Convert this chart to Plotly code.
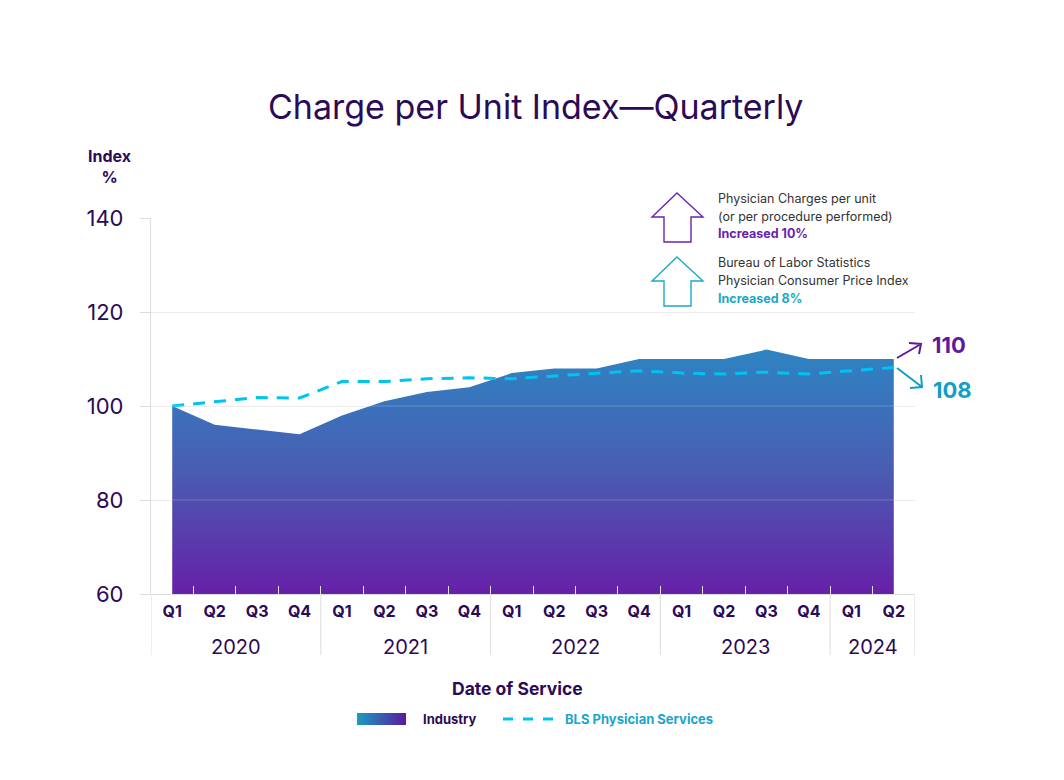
import base64
import plotly.graph_objects as go

# ---------------- data ----------------
quarters = ["Q1", "Q2", "Q3", "Q4", "Q1", "Q2", "Q3", "Q4", "Q1", "Q2", "Q3", "Q4",
            "Q1", "Q2", "Q3", "Q4", "Q1", "Q2"]
years = ["2020"] * 4 + ["2021"] * 4 + ["2022"] * 4 + ["2023"] * 4 + ["2024"] * 2
industry = [100, 96, 95, 94, 98, 101, 103, 104, 107, 108, 108, 110,
            110, 110, 112, 110, 110, 110]
bls = [100.0, 100.9, 101.8, 101.7, 105.2, 105.2, 105.8, 106.0, 105.8, 106.4, 107.0, 107.5,
       107.0, 106.8, 107.2, 106.8, 107.5, 108.2]
y_ticks = [60, 80, 100, 120, 140]
end_labels = ["110", "108"]

DARK = "#2b0a57"
PURPLE = "#5c1a9e"
PURPLE2 = "#6a22b0"
CYAN = "#00c3f0"
TEAL = "#0fa0c2"
GRID = "#ebebeb"
FONT = "Inter"

# plot-area frame in screen pixels; page body has an 8px margin
OFF = 8
L, R, T, B = 151, 915, 218, 594
W, H = 1064 - 2 * OFF, 780 - 2 * OFF


def px(x):
    return (x - L) / (R - L)


def py(y):
    return (B - y) / (B - T)


xs = list(range(len(quarters)))

fig = go.Figure()
fig.add_trace(go.Scatter(
    x=xs, y=industry, mode="lines", name="Industry",
    line=dict(width=0, color=PURPLE),
    fill="tozeroy",
    fillgradient=dict(type="vertical", start=60, stop=112,
                      colorscale=[[0, "#6620a8"], [0.5, "#4a5cb2"], [1, "#2e84c2"]]),
    showlegend=False, hoverinfo="skip"))
fig.add_trace(go.Scatter(
    x=xs, y=bls, mode="lines", name="BLS Physician Services",
    line=dict(color=CYAN, width=3, dash="12px,9px"),
    showlegend=False, hoverinfo="skip"))

shapes = []
annotations = []

# gridlines over the fill (faint)
for v in [80, 100]:
    shapes.append(dict(type="line", xref="paper", yref="y", x0=0, x1=1, y0=v, y1=v,
                       line=dict(color="rgba(255,255,255,0.22)", width=1), layer="above"))

# year dividers
bounds = [-0.5]
for i in range(1, len(years)):
    if years[i] != years[i - 1]:
        bounds.append(i - 0.5)
bounds.append(len(years) - 0.5)
for b in bounds:
    shapes.append(dict(type="line", xref="x", yref="paper", x0=b, x1=b,
                       y0=0, y1=-(655 - B) / (B - T),
                       line=dict(color="#e2e2e2", width=1.2)))

# year labels
for j in range(len(bounds) - 1):
    yr = years[int(bounds[j] + 0.5)]
    annotations.append(dict(x=(bounds[j] + bounds[j + 1]) / 2, y=py(647), xref="x", yref="paper",
                            text=yr, showarrow=False, font=dict(family=FONT, size=20, color=DARK),
                            xanchor="center", yanchor="middle"))

# title
annotations.append(dict(x=px(535), y=py(107), xref="paper", yref="paper",
                        text="Charge per Unit Index\u2014Quarterly", showarrow=False,
                        font=dict(family=FONT, size=34, color=DARK),
                        xanchor="center", yanchor="middle"))
# y-axis title
annotations.append(dict(x=px(109), y=py(166), xref="paper", yref="paper",
                        text="<b>Index</b><br><b>%</b>", showarrow=False,
                        font=dict(family=FONT, size=16, color=DARK),
                        xanchor="center", yanchor="middle"))
# x-axis title
annotations.append(dict(x=px(517), y=py(688), xref="paper", yref="paper",
                        text="<b>Date of Service</b>", showarrow=False,
                        font=dict(family=FONT, size=17.5, color=DARK),
                        xanchor="center", yanchor="middle"))


# info arrows (outlined up arrows)
def up_arrow(dy, color):
    pts = [(677, 193), (703, 217), (691, 217), (691, 242), (664, 242), (664, 217), (652, 217)]
    path = "M " + " L ".join(f"{px(x):.5f},{py(y + dy):.5f}" for x, y in pts) + " Z"
    return dict(type="path", xref="paper", yref="paper", path=path,
                line=dict(color=color, width=1.4), fillcolor="rgba(0,0,0,0)")


shapes.append(up_arrow(0, PURPLE2))
shapes.append(up_arrow(64, "#1aa8c8"))

info = [
    (198, "Physician Charges per unit", "#333333", False),
    (216, "(or per procedure performed)", "#333333", False),
    (234, "Increased 10%", PURPLE2, True),
    (262, "Bureau of Labor Statistics", "#333333", False),
    (280, "Physician Consumer Price Index", "#333333", False),
    (298, "Increased 8%", "#1aa8c8", True),
]
for y, t, c, bold in info:
    annotations.append(dict(x=px(716), y=py(y), xref="paper", yref="paper",
                            text=f"<b>{t}</b>" if bold else t, showarrow=False,
                            font=dict(family=FONT, size=12.5, color=c),
                            xanchor="left", yanchor="middle"))


# end-of-series arrows and labels
def open_arrow(tail, tip, b1, b2, color):
    path = (f"M {px(tail[0]):.5f},{py(tail[1]):.5f} L {px(tip[0]):.5f},{py(tip[1]):.5f} "
            f"M {px(b1[0]):.5f},{py(b1[1]):.5f} L {px(tip[0]):.5f},{py(tip[1]):.5f} "
            f"L {px(b2[0]):.5f},{py(b2[1]):.5f}")
    return dict(type="path", xref="paper", yref="paper", path=path,
                line=dict(color=color, width=2))


shapes.append(open_arrow((897, 358), (921, 344), (909, 343), (919, 354), PURPLE))
shapes.append(open_arrow((897, 368), (922, 387), (910, 388), (921, 375), TEAL))
annotations.append(dict(x=px(930), y=py(345), xref="paper", yref="paper",
                        text=f"<b>{end_labels[0]}</b>", showarrow=False,
                        font=dict(family=FONT, size=22, color=PURPLE),
                        xanchor="left", yanchor="middle"))
annotations.append(dict(x=px(931), y=py(390), xref="paper", yref="paper",
                        text=f"<b>{end_labels[1]}</b>", showarrow=False,
                        font=dict(family=FONT, size=22, color=TEAL),
                        xanchor="left", yanchor="middle"))

# custom legend
svg = ('<svg xmlns="http://www.w3.org/2000/svg" width="49" height="12">'
       '<defs><linearGradient id="g" x1="0" x2="1" y1="0" y2="0">'
       '<stop offset="0" stop-color="#1a9cc2"/><stop offset="1" stop-color="#5a1a9e"/>'
       '</linearGradient></defs><rect width="49" height="12" fill="url(#g)"/></svg>')
src = "data:image/svg+xml;base64," + base64.b64encode(svg.encode()).decode()
images = [dict(source=src, xref="paper", yref="paper", x=px(357), y=py(713),
               sizex=px(406) - px(357), sizey=py(713) - py(725),
               xanchor="left", yanchor="top", sizing="stretch", layer="above")]
annotations.append(dict(x=px(421), y=py(719), xref="paper", yref="paper",
                        text="<b>Industry</b>", showarrow=False,
                        font=dict(family=FONT, size=13, color=DARK),
                        xanchor="left", yanchor="middle"))
shapes.append(dict(type="line", xref="paper", yref="paper", x0=px(503), x1=px(553),
                   y0=py(719), y1=py(719), line=dict(color=CYAN, width=3, dash="10px,10px")))
annotations.append(dict(x=px(563), y=py(719), xref="paper", yref="paper",
                        text="<b>BLS Physician Services</b>", showarrow=False,
                        font=dict(family=FONT, size=13, color="#1aa6c8"),
                        xanchor="left", yanchor="middle"))

fig.update_layout(
    width=W, height=H,
    margin=dict(l=L - OFF, r=W - (R - OFF), t=T - OFF, b=H - (B - OFF), pad=0),
    plot_bgcolor="white", paper_bgcolor="white",
    font=dict(family=FONT, color=DARK),
    showlegend=False,
    shapes=shapes, annotations=annotations, images=images,
    xaxis=dict(
        range=[-0.5, len(quarters) - 0.5], tickmode="array", tickvals=xs,
        ticktext=[f"<b>{q}</b>" for q in quarters], ticks="", showgrid=False,
        zeroline=False, showline=True, linecolor="#dddddd", linewidth=1.2,
        tickfont=dict(family=FONT, size=16, color=DARK), ticklabelstandoff=3,
        minor=dict(tickmode="array", tickvals=[i + 0.5 for i in xs[:-1]], ticks="inside",
                   ticklen=8, tickcolor="#dcdcdc", tickwidth=1.2, showgrid=False),
    ),
    yaxis=dict(
        range=[60, 140], tickmode="array", tickvals=y_ticks,
        ticks="outside", ticklen=10, tickcolor="#dddddd", tickwidth=1.2,
        showgrid=True, gridcolor=GRID, gridwidth=1, zeroline=False,
        showline=True, linecolor="#dddddd", linewidth=1.2,
        tickfont=dict(family=FONT, size=22, color=DARK), ticklabelstandoff=12,
    ),
)

fig.write_html("out.html")
